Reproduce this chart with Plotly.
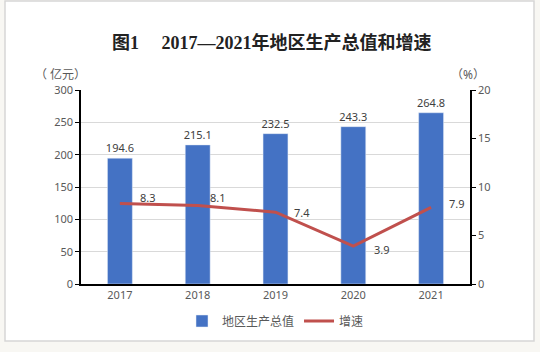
import plotly.graph_objects as go

years = ["2017", "2018", "2019", "2020", "2021"]
gdp = [194.6, 215.1, 232.5, 243.3, 264.8]
growth = [8.3, 8.1, 7.4, 3.9, 7.9]

# label offsets (style only): (xshift px, yshift px)
growth_label_offsets = [(18, 6), (10, 8), (16, 0), (19, -3), (16, 4)]

BLUE = "#4472C4"
RED = "#C0504D"
TXT = "#595959"
FONT = "Noto Sans, Noto Sans CJK SC"

fig = go.Figure()
fig.add_trace(go.Bar(
    x=years, y=gdp, name="地区生产总值", marker_color=BLUE,
    text=[f"{v:.1f}" for v in gdp], textposition="outside", constraintext="none",
    textfont=dict(size=11, color="#404040", family=FONT),
    cliponaxis=False, yaxis="y",
))
fig.add_trace(go.Scatter(
    x=years, y=growth, name="增速", mode="lines",
    line=dict(color=RED, width=3), yaxis="y2",
))

for i, (v, (dx, dy)) in enumerate(zip(growth, growth_label_offsets)):
    fig.add_annotation(x=i, xref="x", y=v, yref="y2", text=f"{v:.1f}", showarrow=False,
                       xanchor="left", yanchor="middle", xshift=dx, yshift=dy,
                       font=dict(size=11, color="#404040", family=FONT))

W, H = 540, 352
L, R, T, B = 81, 70, 90, 68
pw, ph = W - L - R, H - T - B

def px(x):
    return (x - L) / pw

def py(y):
    return (H - B - y) / ph

fig.add_shape(type="rect", xref="paper", yref="paper",
              x0=px(5), x1=px(534), y0=py(341), y1=py(1),
              fillcolor="white", line=dict(color="#d6d6d6", width=1.5), layer="below")

fig.add_annotation(xref="paper", yref="paper", x=px(272), y=py(42),
                   text="<b>图1　 2017—2021年地区生产总值和增速</b>", showarrow=False,
                   font=dict(size=18, color="#222222", family="Liberation Serif, Noto Sans CJK SC"),
                   xanchor="center", yanchor="middle")
fig.add_annotation(xref="paper", yref="paper", x=px(60), y=py(74),
                   text="（ 亿元）", showarrow=False, xanchor="center", yanchor="middle",
                   font=dict(size=12, color=TXT, family=FONT))
fig.add_annotation(xref="paper", yref="paper", x=px(468), y=py(74),
                   text="（%）", showarrow=False, xanchor="center", yanchor="middle",
                   font=dict(size=12, color=TXT, family=FONT))

fig.update_layout(
    width=W, height=H,
    margin=dict(l=L, r=R, t=T, b=B),
    paper_bgcolor="#f8f7f3", plot_bgcolor="rgba(0,0,0,0)",
    bargap=0.68,
    showlegend=True,
    legend=dict(orientation="h", x=0.5, xanchor="center", y=py(321), yanchor="middle",
                font=dict(size=12, color=TXT, family=FONT), bgcolor="rgba(0,0,0,0)",
                itemwidth=30, tracegroupgap=0),
    xaxis=dict(type="category", range=[-0.5, len(years) - 0.5], showline=True,
               linecolor="black", linewidth=1.5, ticks="",
               tickfont=dict(size=11, color=TXT, family=FONT), showgrid=False),
    yaxis=dict(range=[0, 300], dtick=50, showline=True, linecolor="black", linewidth=1.5,
               ticks="outside", ticklen=4, tickcolor="black",
               gridcolor="#d9d9d9", gridwidth=1, zeroline=False,
               tickfont=dict(size=11, color=TXT, family=FONT)),
    yaxis2=dict(range=[0, 20], dtick=5, overlaying="y", side="right", showline=True,
                linecolor="black", linewidth=1.5, ticks="outside", ticklen=4, tickcolor="black",
                showgrid=False, zeroline=False,
                tickfont=dict(size=11, color=TXT, family=FONT)),
)

fig.write_html("out.html")
